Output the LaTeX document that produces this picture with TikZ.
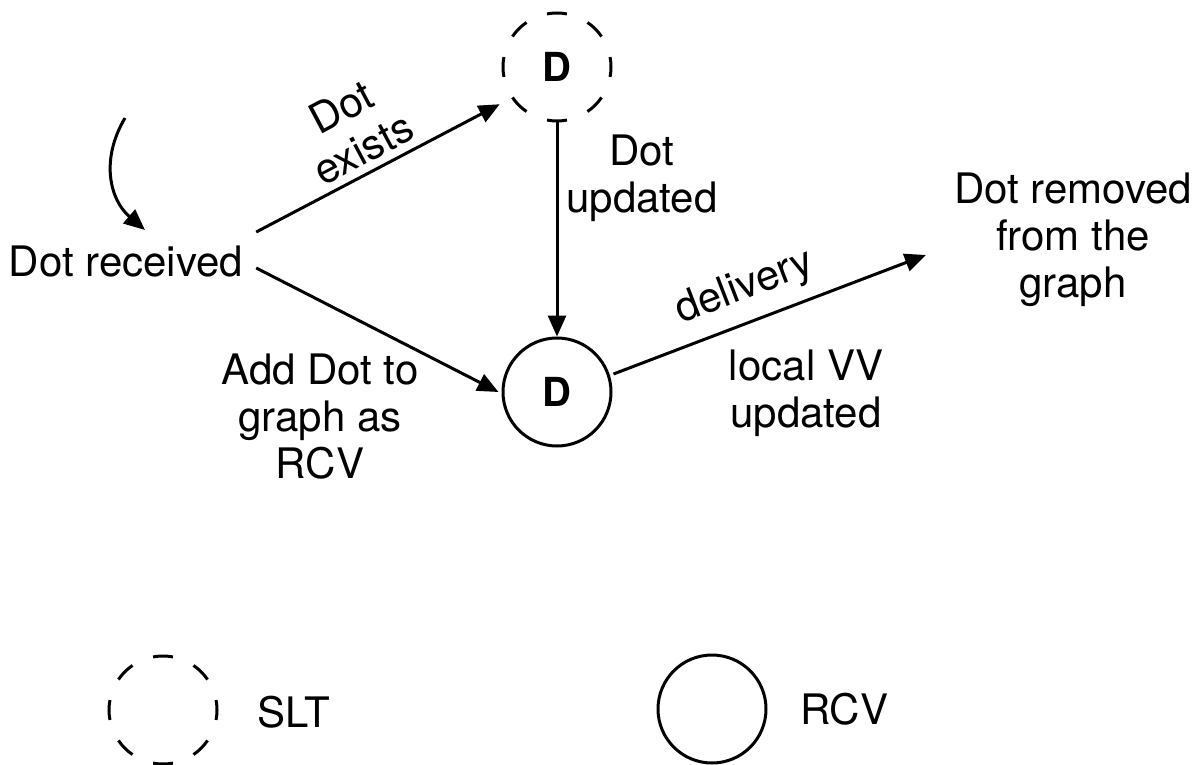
\documentclass[tikz,border=0pt]{standalone}
\usepackage{fontspec}
\setmainfont{TeX Gyre Heros}
\usetikzlibrary{arrows.meta}
\tikzset{
  arr/.style={line width=3pt, -{Triangle[length=21pt,width=18pt]}},
  state/.style={circle, draw, line width=3pt, minimum size=108pt, inner sep=0pt,
    font=\fontsize{40}{44}\selectfont\bfseries},
  slt/.style={state, dash pattern=on 20pt off 22.4pt, dash phase=10pt},
  rcv/.style={state},
  lbl/.style={align=center, inner sep=6pt, font=\fontsize{42}{47}\selectfont},
}
\begin{document}
\begin{tikzpicture}[x=1pt,y=-1pt]
\useasboundingbox (0,0) rectangle (1203,765);

% states
\node[slt] (dslt) at (557,67) {D};
\node[rcv] (drcv) at (557,392) {D};

% entry point and its incoming curved arrow
\node[lbl] (rec) at (126,262) {Dot received};
\coordinate (c0) at (125,118);
\coordinate (c1) at (145,230);
\draw[arr] (c0) .. controls (100,160) and (110,200) .. (c1);

% transitions
\draw[arr] ([shift={(7,-30)}]rec.east) -- ([shift={(-18,-2)}]dslt.south west);
\draw[arr] ([shift={(7,6)}]rec.east) -- ([xshift=-3pt]drcv.west);
\draw[arr] (dslt.south) -- (drcv.north);
\node[lbl] (out) at (1073,240) {Dot removed\\from the\\graph};
\draw[arr] ([shift={(1,-18)}]drcv.east) -- ([shift={(-22,15)}]out.west);

% edge labels
\node[lbl, rotate=28, inner sep=2pt] (lexists) at (352,128) {Dot\\exists};
\node[lbl] (lupd) at (642,178) {Dot\\updated};
\node[lbl] (ladd) at (320,417) {Add Dot to\\graph as\\RCV};
\node[lbl, rotate=21, inner sep=2pt] (ldel) at (745,288) {delivery};
\node[lbl] (lvv) at (806,393) {local VV\\updated};

% legend
\node[slt] (kslt) at (163,710) {};
\node[lbl, anchor=west] (tslt) at (251,712) {SLT};
\node[rcv] (krcv) at (712,709) {};
\node[lbl, anchor=west] (trcv) at (794,709) {RCV};
\end{tikzpicture}
\end{document}
